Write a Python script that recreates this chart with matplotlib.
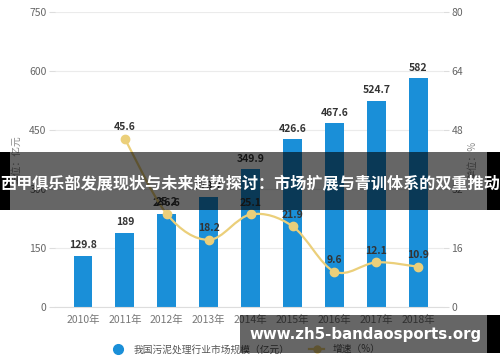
import matplotlib
matplotlib.use("Agg")
import matplotlib.pyplot as plt
from matplotlib.path import Path
from matplotlib.patches import PathPatch, Rectangle
from matplotlib.lines import Line2D
import numpy as np

plt.rcParams['font.family'] = ['Noto Sans CJK SC', 'DejaVu Sans']

years = ["2010年", "2011年", "2012年", "2013年", "2014年", "2015年", "2016年", "2017年", "2018年"]
market = [129.8, 189, 236.6, 279.7, 349.9, 426.6, 467.6, 524.7, 582]
growth_years = ["2011年", "2012年", "2013年", "2014年", "2015年", "2016年", "2017年", "2018年"]
growth = [45.6, 25.2, 18.2, 25.1, 21.9, 9.6, 12.1, 10.9]
left_ticks = [0, 150, 300, 450, 600, 750]
right_ticks = [0, 16, 32, 48, 64, 80]
title = "西甲俱乐部发展现状与未来趋势探讨：市场扩展与青训体系的双重推动"
watermark = "www.zh5-bandaosports.org"

bar_color = "#1a8fd8"
line_color = "#ebcf7a"

fig = plt.figure(figsize=(5, 3.62), dpi=100)
ax = fig.add_axes([55 / 500, 0.152, 388 / 500, 0.815])
ax2 = ax.twinx()

x = np.arange(len(years))
ax.bar(x, market, width=0.45, color=bar_color, zorder=2)
for xi, v in zip(x, market):
    ax.text(xi, v + 14, f"{v:g}", ha="center", va="bottom", fontsize=7.5,
            color="#333333", fontweight="bold", zorder=5)

ax.set_ylim(0, 750)
ax.set_yticks(left_ticks)
ax.set_xlim(-0.668, 8.59)
ax.set_xticks(x)
ax.set_xticklabels(years)
ax.grid(axis="y", color="#ebebeb", linewidth=0.8, zorder=0)
ax.set_axisbelow(True)
for s in ["top", "left", "right"]:
    ax.spines[s].set_visible(False)
ax.spines["bottom"].set_color("#dddddd")
ax.tick_params(axis="y", length=4, color="#dddddd", labelsize=7.5, labelcolor="#666666", pad=2)
ax.tick_params(axis="x", length=0, labelsize=7.5, labelcolor="#777777", pad=6)
ax.set_ylabel("单位：亿元", fontsize=7, color="#888888", labelpad=6)

# growth line (smooth)
gx = np.array([years.index(y) for y in growth_years], dtype=float)
gy = np.array(growth, dtype=float)
pts = np.column_stack([gx, gy])
verts = [tuple(pts[0])]
codes = [Path.MOVETO]
n = len(pts)
for i in range(n - 1):
    p0 = pts[i - 1] if i > 0 else pts[i]
    p1 = pts[i]
    p2 = pts[i + 1]
    p3 = pts[i + 2] if i + 2 < n else pts[i + 1]
    c1 = p1 + (p2 - p0) / 6.0
    c2 = p2 - (p3 - p1) / 6.0
    verts += [tuple(c1), tuple(c2), tuple(p2)]
    codes += [Path.CURVE4] * 3
ax2.add_patch(PathPatch(Path(verts, codes), facecolor="none", edgecolor=line_color,
                        linewidth=1.6, zorder=3))
ax2.plot(gx, gy, "o", color=line_color, markersize=6, zorder=4)
for xi, v in zip(gx, gy):
    ax2.text(xi, v + 1.8, f"{v:g}", ha="center", va="bottom", fontsize=7.5,
             color="#333333", fontweight="bold", zorder=5)
ax2.set_ylim(0, 80)
ax2.set_yticks(right_ticks)
for s in ["top", "left", "right", "bottom"]:
    ax2.spines[s].set_visible(False)
ax2.tick_params(axis="y", length=4, color="#dddddd", labelsize=7.5, labelcolor="#666666", pad=2)
ax2.set_ylabel("单位：%", fontsize=7, color="#888888", labelpad=3)

# legend
handles = [Line2D([], [], marker="o", linestyle="none", color=bar_color, markersize=7),
           Line2D([], [], marker="o", color=line_color, markersize=5, linewidth=1.6)]
fig.legend(handles, ["我国污泥处理行业市场规模（亿元）", "增速（%）"], loc="center",
           bbox_to_anchor=(0.49, 0.035), ncol=2, frameon=False, fontsize=7,
           labelcolor="#555555", handlelength=1.6, columnspacing=2.0)

# title banner overlay
fig.patches.append(Rectangle((0, 1 - 210 / 362), 1, 58 / 362, transform=fig.transFigure,
                             facecolor="black", alpha=0.6, zorder=10))
fig.patches.append(Rectangle((0, 1 - 210 / 362), 10 / 500, 58 / 362, transform=fig.transFigure,
                             facecolor="black", zorder=11))
fig.patches.append(Rectangle((487 / 500, 1 - 210 / 362), 13 / 500, 58 / 362, transform=fig.transFigure,
                             facecolor="black", zorder=11))
fig.text(0.5, 1 - 184 / 362, title, ha="center", va="center", color="white",
         fontsize=11.6, fontweight="bold", zorder=12)

# watermark overlay
fig.patches.append(Rectangle((240 / 500, 1 - 353 / 362), 247 / 500, 38 / 362, transform=fig.transFigure,
                             facecolor="black", alpha=0.6, zorder=10))
fig.patches.append(Rectangle((487 / 500, 1 - 353 / 362), 13 / 500, 38 / 362, transform=fig.transFigure,
                             facecolor="black", zorder=11))
fig.text(366 / 500, 1 - 335 / 362, watermark, ha="center", va="center", color="white",
         fontsize=10.8, fontweight="bold", family="DejaVu Sans", zorder=12)

fig.savefig("out.png", dpi=100)
